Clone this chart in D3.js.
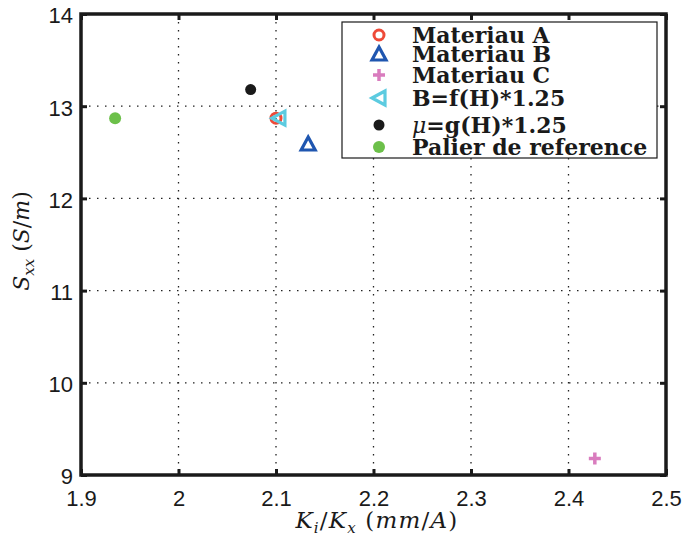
<!DOCTYPE html>
<html><head><meta charset="utf-8">
<script src="https://cdn.jsdelivr.net/npm/d3@7"></script>
<style>body{margin:0;background:#fff}svg{display:block}</style>
</head><body>
<svg id="c" width="682" height="540"></svg>
<script>
const xTicks = [1.9, 2.0, 2.1, 2.2, 2.3, 2.4, 2.5];
const xTickLabels = ["1.9", "2", "2.1", "2.2", "2.3", "2.4", "2.5"];
const yTicks = [9, 10, 11, 12, 13, 14];
const yTickLabels = ["9", "10", "11", "12", "13", "14"];
const seriesNames = ["Materiau A", "Materiau B", "Materiau C", "B=f(H)*1.25", "μ=g(H)*1.25", "Palier de reference"];
const seriesX = [2.100, 2.133, 2.427, 2.103, 2.074, 1.935];
const seriesY = [12.87, 12.59, 9.18, 12.87, 13.18, 12.87];
const seriesColors = ["#ee4a38", "#1f56b0", "#d97cbe", "#5ccbe0", "#1a1a1a", "#6cc04a"];
const seriesSymbols = ["circle", "triangleUp", "plus", "triangleLeft", "dot", "dotBig"];

const svg = d3.select("#c");
const L = 81, R = 666, T = 14, B = 475;
const x = d3.scaleLinear().domain([1.9, 2.5]).range([L, R]);
const y = d3.scaleLinear().domain([9, 14]).range([B, T]);

// grid
const g = svg.append("g");
g.selectAll(".vg").data(xTicks.slice(1, -1)).enter().append("line")
  .attr("x1", d => x(d)).attr("x2", d => x(d)).attr("y1", T).attr("y2", B)
  .attr("stroke", "#222").attr("stroke-width", 1.3).attr("stroke-dasharray", "1.5,6.5");
g.selectAll(".hg").data(yTicks.slice(1, -1)).enter().append("line")
  .attr("y1", d => y(d)).attr("y2", d => y(d)).attr("x1", L).attr("x2", R)
  .attr("stroke", "#222").attr("stroke-width", 1.3).attr("stroke-dasharray", "1.5,6.5");

// axes
const fmtX = (d, i) => xTickLabels[i];
const fmtY = (d, i) => yTickLabels[i];
const axB = svg.append("g").attr("transform", `translate(0,${B})`)
  .call(d3.axisBottom(x).tickValues(xTicks).tickFormat(fmtX).tickSizeInner(-6).tickSizeOuter(0).tickPadding(15));
const axT = svg.append("g").attr("transform", `translate(0,${T})`)
  .call(d3.axisTop(x).tickValues(xTicks).tickFormat("").tickSizeInner(-6).tickSizeOuter(0));
const axL = svg.append("g").attr("transform", `translate(${L},0)`)
  .call(d3.axisLeft(y).tickValues(yTicks).tickFormat(fmtY).tickSizeInner(-6).tickSizeOuter(0).tickPadding(8));
const axR = svg.append("g").attr("transform", `translate(${R},0)`)
  .call(d3.axisRight(y).tickValues(yTicks).tickFormat("").tickSizeInner(-6).tickSizeOuter(0));
[axB, axT, axL, axR].forEach(a => {
  a.select(".domain").remove();
  a.selectAll(".tick line").attr("stroke", "#1a1a1a").attr("stroke-width", 3);
  a.selectAll("text").attr("font-family", "Liberation Sans, Arial, sans-serif").attr("font-size", 22).attr("fill", "#1a1a1a");
});
axB.selectAll("text").attr("dy", "0.71em");
axL.selectAll("text").attr("dy", "0.4em");

svg.append("rect").attr("x", L).attr("y", T).attr("width", R - L).attr("height", B - T)
  .attr("fill", "none").attr("stroke", "#1a1a1a").attr("stroke-width", 3.5);

// symbols
function drawSym(sel, sym, color, cx, cy) {
  if (sym === "circle") {
    sel.append("circle").attr("cx", cx).attr("cy", cy).attr("r", 5).attr("fill", "none").attr("stroke", color).attr("stroke-width", 3);
  } else if (sym === "triangleUp") {
    sel.append("path").attr("d", `M${cx},${cy-7}L${cx+7},${cy+6}L${cx-7},${cy+6}Z`).attr("fill", "none").attr("stroke", color).attr("stroke-width", 3.2);
  } else if (sym === "plus") {
    sel.append("path").attr("d", `M${cx-6},${cy}H${cx+6}M${cx},${cy-6}V${cy+6}`).attr("stroke", color).attr("stroke-width", 3.5);
  } else if (sym === "triangleLeft") {
    sel.append("path").attr("d", `M${cx-7},${cy}L${cx+6},${cy-7}L${cx+6},${cy+7}Z`).attr("fill", "none").attr("stroke", color).attr("stroke-width", 3.2);
  } else if (sym === "dot") {
    sel.append("circle").attr("cx", cx).attr("cy", cy).attr("r", 5.5).attr("fill", color);
  } else if (sym === "dotBig") {
    sel.append("circle").attr("cx", cx).attr("cy", cy).attr("r", 6).attr("fill", color);
  }
}
const pts = svg.append("g");
seriesX.forEach((v, i) => drawSym(pts, seriesSymbols[i], seriesColors[i], x(v), y(seriesY[i])));

// legend
const lg = svg.append("g");
lg.append("rect").attr("x", 342).attr("y", 22).attr("width", 315).attr("height", 136)
  .attr("fill", "#fff").attr("stroke", "#1a1a1a").attr("stroke-width", 1.2);
const rowY = [35, 54, 75, 98, 125, 147];
seriesNames.forEach((n, i) => {
  drawSym(lg, seriesSymbols[i], seriesColors[i], 379, rowY[i]);
  const t = lg.append("text").attr("x", 412).attr("y", rowY[i]).attr("dy", "0.36em")
    .attr("font-family", "DejaVu Serif, serif").attr("font-size", 22).attr("font-weight", "bold").attr("fill", "#1a1a1a");
  if (n.startsWith("μ")) {
    t.append("tspan").attr("font-style", "italic").attr("font-weight", "normal").text("μ");
    t.append("tspan").text(n.slice(1));
  } else t.text(n);
});

// axis labels
const lblFont = "DejaVu Serif, serif";
const xl = svg.append("text").attr("x", 377).attr("y", 528).attr("text-anchor", "middle")
  .attr("font-family", lblFont).attr("font-size", 23).attr("letter-spacing", 1.2).attr("fill", "#1a1a1a");
xl.append("tspan").attr("font-style", "italic").text("K");
xl.append("tspan").attr("font-style", "italic").attr("font-size", 15).attr("dy", 5).text("i");
xl.append("tspan").attr("dy", -5).text("/");
xl.append("tspan").attr("font-style", "italic").text("K");
xl.append("tspan").attr("font-style", "italic").attr("font-size", 15).attr("dy", 5).text("x");
xl.append("tspan").attr("dy", -5).text(" (");
xl.append("tspan").attr("font-style", "italic").text("mm");
xl.append("tspan").text("/");
xl.append("tspan").attr("font-style", "italic").text("A");
xl.append("tspan").text(")");

const yl = svg.append("text").attr("transform", `translate(29,241) rotate(-90)`).attr("text-anchor", "middle")
  .attr("font-family", lblFont).attr("font-size", 22).attr("fill", "#1a1a1a");
yl.append("tspan").attr("font-style", "italic").text("S");
yl.append("tspan").attr("font-style", "italic").attr("font-size", 15).attr("dy", 5).text("xx");
yl.append("tspan").attr("dy", -5).text(" (");
yl.append("tspan").attr("font-style", "italic").text("S");
yl.append("tspan").text("/");
yl.append("tspan").attr("font-style", "italic").text("m");
yl.append("tspan").text(")");
</script>
</body></html>
